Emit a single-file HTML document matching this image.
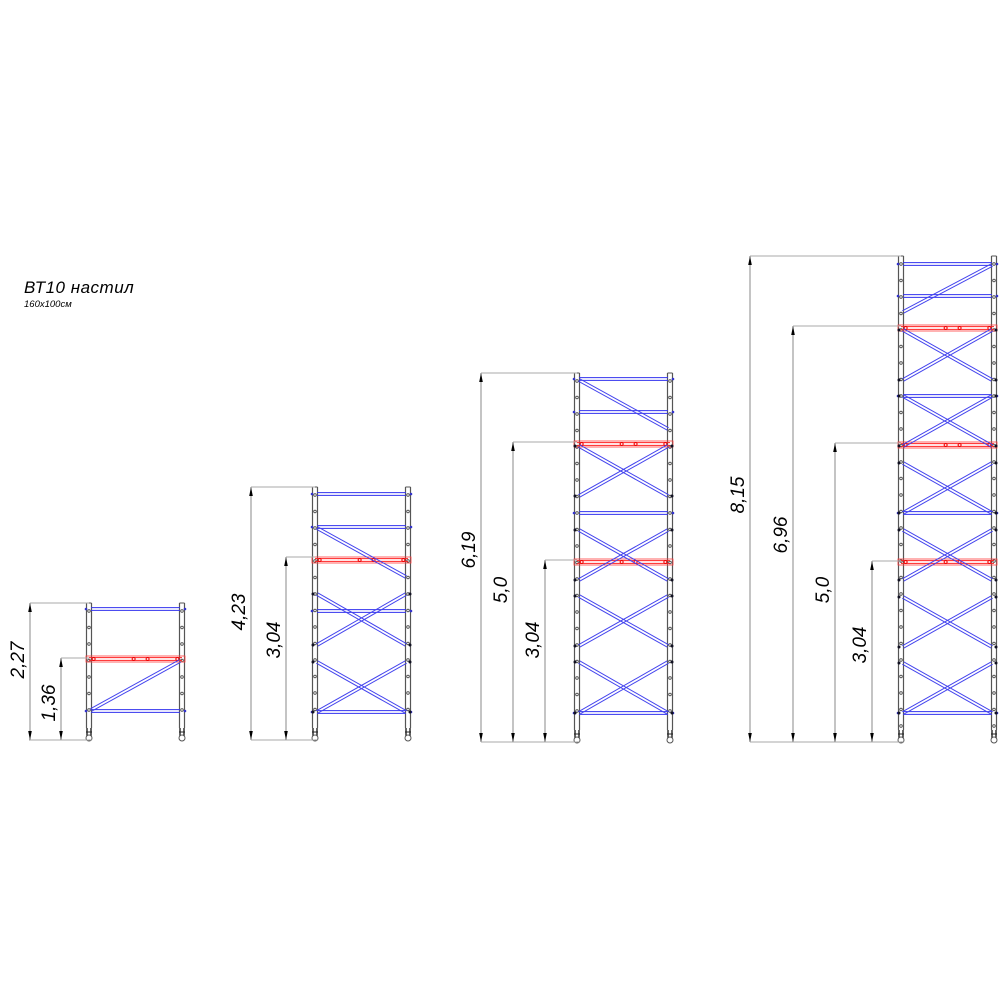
<!DOCTYPE html>
<html><head><meta charset="utf-8">
<style>
html,body{margin:0;padding:0;background:#fff;width:1000px;height:1000px;overflow:hidden}
svg text{font-family:"Liberation Sans",sans-serif;font-style:italic;fill:#000}
</style></head>
<body>
<svg id="s" width="1000" height="1000" viewBox="0 0 1000 1000" xmlns="http://www.w3.org/2000/svg">
<text x="24" y="293" font-size="17" letter-spacing="0.5">ВТ10  настил</text>
<text x="24" y="307" font-size="9.5">160x100см</text>
</svg>
<script>
var s=document.getElementById('s'),h='';
function L(x1,y1,x2,y2,c,w){h+='<line x1="'+x1+'" y1="'+y1+'" x2="'+x2+'" y2="'+y2+'" stroke="'+c+'" stroke-width="'+(w||1)+'"/>';}
function dbl(x1,y1,x2,y2,c){var dx=x2-x1,dy=y2-y1,l=Math.hypot(dx,dy),nx=-dy/l*1.4,ny=dx/l*1.4;L(x1+nx,y1+ny,x2+nx,y2+ny,c);L(x1-nx,y1-ny,x2-nx,y2-ny,c);}
function tower(xl,xr,top,bot,hor,red,diag,cross){
 [xl,xr].forEach(function(x){
  L(x-2.5,top,x-2.5,bot-12,'#555',1.2);L(x+2.5,top,x+2.5,bot-12,'#555',1.2);L(x-2.5,top,x+2.5,top,'#555');
  for(var y=top+8;y<bot-15;y+=16.5)h+='<circle cx="'+x+'" cy="'+y+'" r="1.3" fill="none" stroke="#444" stroke-width="0.8"/>';
  L(x-2,bot-12,x-2,bot-4,'#222',1.4);L(x+2,bot-12,x+2,bot-4,'#222',1.4);L(x-3,bot-8,x+3,bot-8,'#222');
  h+='<circle cx="'+x+'" cy="'+(bot-2)+'" r="3" fill="none" stroke="#555"/>';
 });
 hor.forEach(function(y){dbl(xl+2,y,xr-2,y,'#3333ee');h+='<circle cx="'+(xl-3)+'" cy="'+y+'" r="1.3" fill="#33c"/><circle cx="'+(xr+3)+'" cy="'+y+'" r="1.3" fill="#33c"/>';});
 red.forEach(function(y){dbl(xl,y,xr,y,'#ff2020');h+='<rect x="'+(xl-3)+'" y="'+(y-3)+'" width="'+(xr-xl+6)+'" height="6" fill="none" stroke="#ff4040" stroke-width="0.8"/>';
  [0.05,0.48,0.63,0.95].forEach(function(f){h+='<circle cx="'+(xl+(xr-xl)*f)+'" cy="'+y+'" r="1.5" fill="none" stroke="#e00"/>';});});
 diag.forEach(function(d){dbl(d[0],d[1],d[2],d[3],'#4444ee');});
 cross.forEach(function(c){dbl(xl+2,c[0],xr-2,c[1],'#4444ee');dbl(xl+2,c[1],xr-2,c[0],'#4444ee');
  h+='<circle cx="'+(xl-2)+'" cy="'+c[0]+'" r="1.5" fill="#112"/><circle cx="'+(xr+2)+'" cy="'+c[1]+'" r="1.5" fill="#112"/><circle cx="'+(xl-2)+'" cy="'+c[1]+'" r="1.5" fill="#112"/><circle cx="'+(xr+2)+'" cy="'+c[0]+'" r="1.5" fill="#112"/>';});
 L(xl-60,bot,xl+3,bot,'#999');
}
function dim(x,y1,y2,xe,t,ty){
 L(x,y1,x,y2,'#888');L(x,y1,xe,y1,'#aaa');L(x,y2,xe,y2,'#aaa');
 h+='<path d="M'+x+' '+y1+' l-1.8 9 h3.6z M'+x+' '+y2+' l-1.8 -9 h3.6z" fill="#000"/>';
 h+='<text font-size="19" transform="translate('+(x-6)+','+ty+') rotate(-90)" text-anchor="middle">'+t+'</text>';
}
tower(89,182,603,740,[609,711],[659],[[91,710,180,661]],[]);
dim(30,603,740,89,'2,27',660);dim(61,658,740,89,'1,36',703);
tower(315,408,487,740,[494,527,611,712],[560],[[317,528,406,577]],[[594,645],[662,712]]);
dim(251,487,740,315,'4,23',612);dim(286,557,740,315,'3,04',640);
tower(577,670,373,742,[379,412,513,713],[444,562],[[579,380,668,429]],[[446,496],[530,580],[596,646],[662,713]]);
dim(481,373,742,577,'6,19',550);dim(513,442,742,577,'5,0',590);dim(545,560,742,577,'3,04',640);
tower(901,994,256,742,[264,296,396,513,713],[328,445,562],[[992,265,903,312]],[[330,380],[396,446],[463,513],[530,580],[597,647],[663,713]]);
dim(750,256,742,901,'8,15',495);dim(793,326,742,901,'6,96',535);dim(835,443,742,901,'5,0',590);dim(872,561,742,901,'3,04',645);
s.insertAdjacentHTML('beforeend',h);
</script>
</body></html>
